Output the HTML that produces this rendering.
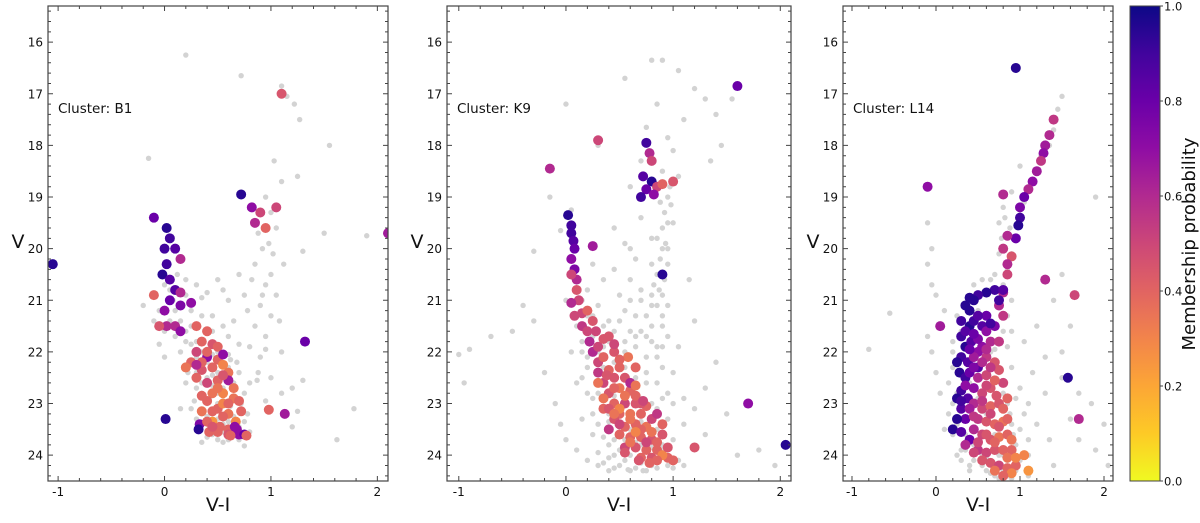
<!DOCTYPE html>
<html><head><meta charset="utf-8"><style>
body{margin:0;background:#fff;font-family:"Liberation Sans","DejaVu Sans",sans-serif}
svg text{font-family:"DejaVu Sans","Liberation Sans",sans-serif}
</style></head><body>
<svg id="chart" width="1200" height="518" viewBox="0 0 1200 518" xmlns="http://www.w3.org/2000/svg">
<defs><linearGradient id="cb" x1="0" y1="1" x2="0" y2="0">
<stop offset="0" stop-color="#f0f921"/><stop offset="0.1" stop-color="#fdca26"/><stop offset="0.2" stop-color="#fca636"/><stop offset="0.3" stop-color="#f2844b"/><stop offset="0.4" stop-color="#e16462"/><stop offset="0.5" stop-color="#cc4778"/><stop offset="0.6" stop-color="#b12a90"/><stop offset="0.7" stop-color="#8f0da4"/><stop offset="0.8" stop-color="#6a00a8"/><stop offset="0.9" stop-color="#41049d"/><stop offset="1" stop-color="#0d0887"/></linearGradient></defs>
</svg>
<script>
const b1Gray=[0.2,16.25,0.72,16.65,1.1,16.85,1.15,17.05,1.22,17.2,1.27,17.5,1.55,18.0,1.25,18.6,-0.15,18.25,1.03,18.3,1.1,18.7,0.95,19.0,1.0,19.3,1.05,19.6,1.5,19.7,1.9,19.75,1.3,20.05,1.12,20.3,1.0,20.5,0.95,20.7,1.05,20.9,0.9,21.1,1.0,21.3,0.85,21.5,0.95,21.7,0.8,21.9,0.9,22.1,1.1,22.0,0.75,20.9,0.7,20.5,0.85,20.3,0.92,20.0,0.98,19.9,0.88,19.7,1.02,20.1,0.92,20.9,1.08,21.4,0.78,21.2,0.82,20.6,0.95,21.95,0.88,22.4,1.0,22.5,0.8,22.6,1.2,22.7,1.3,22.55,0.95,22.95,1.1,22.8,1.25,23.15,1.2,23.45,1.62,23.7,1.78,23.1,0.87,22.55,0.6,21.0,0.55,20.8,0.4,20.85,0.3,20.7,0.35,20.95,0.2,20.9,0.25,21.2,0.45,21.3,0.55,21.5,0.65,21.4,0.6,21.7,0.7,21.85,0.2,21.6,0.1,21.7,-0.05,21.85,0.0,22.1,-0.2,21.1,0.15,22.0,0.25,21.85,0.35,22.0,0.3,22.25,0.45,22.45,0.55,22.7,0.65,22.6,0.7,22.4,0.75,22.8,0.6,22.95,0.5,23.0,0.4,23.0,0.3,22.7,0.2,22.6,0.15,23.1,0.25,23.1,0.3,23.3,0.4,23.4,0.5,23.3,0.55,23.4,0.65,23.25,0.75,23.35,0.8,23.55,0.7,23.7,0.6,23.7,0.5,23.7,0.4,23.65,0.35,23.75,0.55,23.75,0.75,23.82,0.45,23.5,0.62,23.05,0.42,22.9,0.52,22.2,0.62,22.15,0.45,22.05,0.05,21.4,-0.1,21.4,0.1,21.2,0.5,20.6,0.45,21.6,0.35,21.3,0.68,22.2,0.6,22.3,0.72,23.0,0.28,22.95,0.22,22.4,0.58,23.2,0.78,23.2,
0.3,22.1,0.4,22.2,0.5,22.4,0.4,22.5,0.3,22.4,0.35,22.6,0.5,22.8,0.45,22.65,0.35,22.8,0.55,22.95,0.45,23.2,0.35,23.2,0.55,23.55,0.45,23.6,0.65,23.55,0.7,23.45,0.4,23.25,0.6,23.35,0.5,22.0,0.4,21.95,0.3,21.8,0.2,21.8,0.15,21.4,0.25,21.5,0.0,21.6,-0.05,21.2,0.08,21.0,0.05,20.8,0.12,20.5,0.0,20.7,0.2,20.6,0.6,22.05];
const b1Members=[1.1,17.0,0.45,0.72,18.95,0.95,0.82,19.2,0.7,0.9,19.3,0.5,1.05,19.2,0.5,0.85,19.5,0.6,0.95,19.6,0.4,-0.1,19.4,0.8,0.02,19.6,0.95,0.05,19.8,0.9,0.1,20.0,0.85,0.15,20.2,0.6,0.0,20.0,0.9,0.02,20.3,0.9,-0.02,20.5,0.95,0.05,20.6,0.85,-1.05,20.3,0.95,2.1,19.7,0.65,0.1,20.8,0.85,0.15,20.85,0.6,-0.1,20.9,0.4,0.05,21.0,0.8,0.15,21.1,0.75,0.25,21.05,0.7,0.0,21.2,0.7,0.02,21.5,0.6,-0.05,21.5,0.45,0.1,21.5,0.6,0.15,21.6,0.7,0.3,21.5,0.4,0.4,21.6,0.4,0.35,21.8,0.4,0.45,21.85,0.45,0.5,21.9,0.4,1.32,21.8,0.8,0.3,22.0,0.5,0.25,22.2,0.4,0.4,22.1,0.7,0.5,22.15,0.4,0.2,22.3,0.35,0.35,22.35,0.45,0.45,22.3,0.4,0.55,22.25,0.3,0.6,22.4,0.35,0.3,22.5,0.4,0.4,22.6,0.5,0.5,22.55,0.4,0.6,22.55,0.65,0.65,22.7,0.35,0.35,22.85,0.4,0.45,22.8,0.35,0.55,22.8,0.3,0.65,22.9,0.35,0.7,22.95,0.4,0.35,23.15,0.35,0.45,23.15,0.4,0.5,23.1,0.4,0.6,23.2,0.35,0.72,23.15,0.4,0.98,23.12,0.4,1.13,23.2,0.65,0.01,23.3,0.95,0.33,23.4,0.75,0.45,23.35,0.25,0.67,23.35,0.3,0.32,23.5,0.95,0.42,23.55,0.4,0.5,23.55,0.4,0.6,23.5,0.4,0.66,23.45,0.7,0.68,23.5,0.7,0.7,23.6,0.7,0.75,23.6,0.8,0.77,23.62,0.4,0.6,23.6,0.45,0.52,23.45,0.4,0.55,22.05,0.7,
0.4,22.0,0.4,0.35,22.2,0.4,0.5,22.7,0.35,0.4,22.95,0.4,0.55,23.0,0.3,0.4,23.35,0.4,0.55,23.25,0.4,0.6,23.0,0.4,0.45,23.45,0.45,0.62,23.62,0.4,0.3,22.25,0.6,0.55,22.45,0.45];
const k9Gray=[0.0,17.2,0.55,16.7,0.8,16.35,0.9,16.35,1.05,16.55,1.2,16.9,1.3,17.1,1.4,17.4,1.55,17.1,1.1,17.5,0.75,17.65,0.95,17.85,1.0,18.1,1.45,18.0,1.35,18.3,0.3,18.0,-0.15,19.0,0.05,19.25,-0.05,19.65,-0.3,20.05,1.05,18.6,0.97,18.8,0.95,19.0,0.92,19.3,0.9,19.6,0.93,19.9,0.88,20.2,0.9,20.5,0.87,20.8,0.85,21.1,0.9,21.3,0.8,21.5,0.75,21.7,0.85,21.9,0.98,19.15,1.0,19.5,0.95,20.0,0.8,20.3,0.82,20.7,0.7,21.0,0.6,20.6,0.55,21.2,0.45,20.4,0.5,20.9,0.35,20.6,0.3,21.1,0.4,21.4,0.2,20.8,0.6,21.6,0.65,21.9,0.75,22.1,0.9,22.3,1.0,22.4,0.7,18.3,0.6,18.8,0.7,19.4,0.55,19.9,0.65,20.2,0.25,20.3,-0.4,21.1,-0.5,21.6,-0.7,21.7,-0.9,21.95,-1.0,22.05,-0.3,21.4,-0.2,22.4,-0.1,23.0,-0.05,23.4,0.0,23.7,0.1,23.9,0.2,24.1,0.3,24.2,0.45,24.25,0.6,24.3,0.75,24.3,0.85,24.25,0.95,24.2,0.1,22.6,0.15,23.3,0.25,23.6,0.3,23.95,0.4,24.05,0.9,23.9,1.0,23.7,1.1,23.4,1.2,23.1,1.3,22.7,1.1,22.9,1.3,23.6,1.5,23.2,1.6,24.0,1.8,23.9,1.95,24.2,-0.95,22.6,0.05,22.0,0.15,21.8,1.2,21.4,1.15,20.6,1.4,22.2,0.5,22.1,0.3,22.0,0.95,22.8,0.85,23.1,0.55,24.1,0.7,24.15,0.8,24.05,0.5,23.9,1.05,24.1,0.35,22.6,0.95,21.7,1.05,21.9,0.65,21.3,0.2,22.3,0.25,22.9,0.4,23.2,0.65,23.75,0.75,23.5,0.15,22.0,0.75,22.6,0.6,20.0,0.8,19.8,0.45,19.6,0.85,17.2,
0.15,21.0,0.25,21.3,0.35,21.5,0.45,21.6,0.55,21.8,0.7,21.6,0.8,21.8,0.9,21.5,0.95,21.1,0.9,20.9,0.8,21.1,0.7,20.8,0.6,21.0,0.5,21.4,0.4,21.8,0.3,21.6,0.2,22.1,0.35,22.3,0.45,22.2,0.55,22.3,0.65,22.5,0.75,22.4,0.85,22.6,0.9,22.9,1.0,23.0,0.95,23.3,0.85,23.5,0.9,23.8,0.8,24.2,0.65,24.25,0.5,24.2,0.4,23.8,0.3,23.4,0.25,23.2,0.2,22.8,0.15,22.5,0.3,22.8,0.45,22.85,0.55,22.9,0.7,22.9,0.8,23.0,0.7,23.35,0.6,23.5,0.5,23.45,0.4,23.35,0.35,23.65,0.45,23.7,0.55,23.7,0.7,23.8,0.8,23.85,0.6,24.0,0.45,24.0,0.35,24.15,0.9,24.0,1.0,24.25,0.85,22.1,0.75,21.3,0.65,21.7,0.55,22.0,0.35,21.9,0.25,21.7,0.1,21.5,0.0,21.0,0.1,20.6,0.9,18.5,0.88,19.1,0.95,19.5,0.85,19.8,0.9,20.0,0.85,20.5,0.8,20.9,0.95,20.3,0.92,20.6,0.9,21.9,0.2,21.3,1.1,24.2,0.72,24.3,0.58,24.28,0.4,24.3];
const k9Members=[0.02,19.35,0.95,0.05,19.55,0.9,0.05,19.7,0.9,0.07,19.85,0.85,0.08,20.0,0.8,0.05,20.2,0.7,0.08,20.4,0.75,0.1,20.6,0.6,0.05,20.5,0.5,0.1,20.8,0.45,0.12,21.0,0.5,0.05,21.05,0.6,0.15,21.25,0.5,0.08,21.3,0.5,0.15,21.5,0.55,0.2,21.6,0.5,0.22,21.8,0.6,0.25,22.0,0.6,0.3,21.9,0.5,0.3,22.2,0.5,0.35,22.1,0.4,0.25,21.4,0.45,0.2,21.2,0.4,0.4,21.7,0.45,0.45,22.0,0.45,0.3,22.4,0.55,0.35,22.6,0.5,0.4,22.35,0.4,0.45,22.5,0.45,0.5,22.3,0.4,0.55,22.5,0.45,0.4,22.8,0.45,0.5,22.7,0.35,0.6,22.75,0.4,0.45,23.0,0.4,0.55,23.0,0.5,0.65,23.0,0.45,0.5,23.2,0.4,0.6,23.2,0.35,0.7,23.2,0.4,0.45,23.3,0.45,0.55,23.45,0.4,0.65,23.4,0.4,0.75,23.45,0.35,0.8,23.3,0.5,0.5,23.6,0.4,0.6,23.65,0.4,0.7,23.65,0.4,0.8,23.7,0.45,0.55,23.85,0.5,0.65,23.85,0.45,0.75,23.9,0.4,0.85,23.9,0.4,0.7,24.05,0.4,0.8,24.05,0.45,0.95,24.05,0.4,1.0,24.1,0.4,0.6,22.6,0.6,0.35,22.9,0.35,0.65,22.3,0.4,0.58,22.1,0.35,0.75,23.05,0.4,0.4,23.5,0.55,0.35,23.1,0.4,0.9,23.6,0.45,0.85,23.2,0.55,0.75,17.95,0.9,0.78,18.15,0.6,0.8,18.3,0.5,0.72,18.6,0.85,0.8,18.7,0.95,0.85,18.8,0.5,0.75,18.85,0.8,0.82,18.95,0.7,0.7,19.0,0.9,0.9,18.75,0.4,1.0,18.7,0.45,1.6,16.85,0.8,0.3,17.9,0.5,-0.15,18.45,0.6,0.25,19.95,0.65,0.9,20.5,0.95,1.7,23.0,0.7,2.05,23.8,0.95,1.2,23.85,0.45,
0.45,22.7,0.4,0.55,22.85,0.35,0.65,22.85,0.4,0.7,23.0,0.45,0.5,23.1,0.3,0.6,23.3,0.35,0.7,23.5,0.4,0.8,23.55,0.35,0.65,23.55,0.3,0.85,23.75,0.4,0.75,23.75,0.5,0.9,24.0,0.3,0.85,24.1,0.4,0.6,23.75,0.35,0.5,23.4,0.5,0.4,23.1,0.45,0.3,22.6,0.35,0.38,22.45,0.45,0.5,22.15,0.4,0.45,21.85,0.5,0.35,21.75,0.45,0.28,21.6,0.5,0.65,22.65,0.35,0.72,22.95,0.5,0.9,23.4,0.4,0.95,23.85,0.45,0.78,24.15,0.4,0.68,24.1,0.45,0.55,23.95,0.45,0.45,23.2,0.35];
const l14Gray=[-0.8,21.95,-0.55,21.25,-0.1,19.5,-0.05,20.0,-0.1,20.3,-0.05,20.7,0.0,20.9,0.1,21.2,0.05,21.5,-0.1,21.7,1.5,17.05,1.45,17.3,1.4,17.7,1.35,18.0,1.25,18.2,1.2,18.5,1.1,18.8,1.05,19.1,1.0,19.5,0.95,19.8,0.9,20.1,0.85,20.4,0.8,20.7,0.9,21.0,0.85,21.3,1.9,19.0,2.1,18.3,1.5,20.5,1.4,21.0,1.2,21.5,1.05,21.8,1.3,22.1,1.15,22.4,1.0,22.7,1.1,23.0,1.3,22.8,1.5,22.5,1.6,23.3,1.7,23.7,1.9,23.9,2.0,23.4,1.2,23.4,1.35,23.7,1.1,24.0,1.4,24.2,1.1,24.4,0.9,24.45,0.8,24.3,0.7,24.4,0.6,24.3,0.4,24.2,0.3,23.9,0.2,23.6,0.15,23.2,0.05,22.8,0.0,22.4,0.2,22.0,0.3,21.6,0.55,21.3,0.6,20.9,0.7,20.5,0.75,20.1,0.6,21.9,0.7,22.3,0.8,22.6,0.85,23.0,0.9,23.4,0.95,23.8,0.25,22.8,0.3,23.3,0.45,23.8,0.55,24.0,0.65,24.15,0.75,24.0,0.85,24.1,1.0,23.5,0.5,21.7,0.4,21.2,0.65,20.8,0.75,19.5,0.8,19.2,0.9,18.9,1.0,18.4,1.5,22.0,1.6,21.5,1.7,22.8,1.85,23.0,2.05,24.2,0.1,23.5,0.25,24.0,-0.05,22.0,
0.25,21.3,0.2,21.8,0.2,22.3,0.15,22.6,0.2,23.0,0.25,23.4,0.35,23.9,0.45,24.1,0.55,24.2,0.65,24.35,0.75,24.45,0.85,24.4,0.95,24.3,1.0,24.1,0.92,23.6,0.88,23.2,0.8,22.8,0.75,22.4,0.65,22.0,0.6,21.6,0.5,21.2,0.45,20.7,0.55,20.6,0.65,20.6,0.4,22.6,0.5,22.9,0.6,23.2,0.7,23.6,0.8,24.0,0.35,23.6,0.5,23.7,0.6,24.05,0.4,24.3,0.3,24.1,0.7,21.95,0.8,21.6,0.9,21.6,0.85,21.9,0.9,22.3,0.95,22.9,1.05,23.2,1.1,23.7,0.78,19.8,0.82,19.4,0.88,19.6];
const l14Members=[0.95,16.5,0.95,1.4,17.5,0.55,1.35,17.8,0.6,1.3,18.0,0.65,1.28,18.15,0.7,1.25,18.3,0.55,1.2,18.5,0.65,1.15,18.7,0.7,1.1,18.85,0.6,1.05,19.0,0.8,1.0,19.2,0.75,0.8,18.95,0.6,1.0,19.4,0.9,0.98,19.55,0.95,0.95,19.8,0.8,0.85,19.75,0.6,0.8,20.0,0.55,0.9,20.15,0.45,0.85,20.3,0.6,0.85,20.5,0.5,0.8,20.85,0.6,0.75,21.1,0.6,0.8,21.3,0.55,0.7,20.8,0.9,0.6,20.85,0.95,0.5,20.9,0.9,1.3,20.6,0.6,1.65,20.9,0.5,1.57,22.5,0.95,1.7,23.3,0.6,-0.1,18.8,0.7,0.05,21.5,0.65,1.05,24.0,0.3,1.1,24.3,0.25,0.35,21.1,0.95,0.4,21.2,0.95,0.45,21.0,0.95,0.3,21.4,0.9,0.4,21.5,0.95,0.45,21.4,0.9,0.3,21.7,0.9,0.35,21.9,0.95,0.42,21.8,0.85,0.3,22.1,0.9,0.38,22.2,0.85,0.28,22.4,0.95,0.35,22.5,0.9,0.3,22.75,0.9,0.38,22.9,0.85,0.3,23.1,0.85,0.35,23.3,0.8,0.2,23.5,0.95,0.3,23.55,0.85,0.4,23.7,0.8,0.25,22.9,0.95,0.5,22.3,0.85,0.55,21.5,0.85,0.6,21.3,0.8,0.7,21.5,0.75,0.65,21.8,0.6,0.75,21.8,0.55,0.55,21.9,0.7,0.5,22.0,0.7,0.45,22.1,0.65,0.6,22.1,0.55,0.7,22.2,0.45,0.5,22.5,0.6,0.6,22.45,0.5,0.45,22.7,0.7,0.55,22.8,0.5,0.65,22.7,0.45,0.45,23.0,0.6,0.55,23.1,0.5,0.65,23.05,0.4,0.75,23.0,0.45,0.5,23.3,0.55,0.6,23.35,0.45,0.7,23.4,0.4,0.8,23.35,0.35,0.45,23.5,0.6,0.55,23.6,0.5,0.65,23.7,0.45,0.75,23.65,0.35,0.85,23.6,0.4,0.5,23.9,0.55,0.6,23.95,0.5,0.7,23.9,0.45,0.8,23.9,0.4,0.9,23.9,0.4,0.65,24.15,0.45,0.75,24.2,0.5,0.85,24.25,0.4,0.95,24.2,0.4,0.9,24.35,0.3,0.8,22.6,0.5,0.4,22.4,0.8,0.85,22.9,0.4,
0.35,21.6,0.85,0.4,21.95,0.8,0.45,22.3,0.75,0.35,22.65,0.7,0.4,23.1,0.65,0.45,23.25,0.55,0.5,23.75,0.5,0.6,23.6,0.45,0.7,23.75,0.4,0.75,23.45,0.45,0.65,23.2,0.5,0.55,22.95,0.55,0.6,22.65,0.5,0.7,22.55,0.4,0.75,22.35,0.45,0.65,22.3,0.55,0.55,22.2,0.6,0.6,21.95,0.6,0.5,21.75,0.75,0.6,21.6,0.7,0.5,21.3,0.85,0.45,21.65,0.8,0.25,22.2,0.95,0.3,22.95,0.9,0.25,23.3,0.95,0.35,23.8,0.6,0.45,23.95,0.5,0.55,24.1,0.45,0.7,24.3,0.35,0.8,24.4,0.4,0.85,24.05,0.35,0.95,24.05,0.3,0.9,23.7,0.35,0.85,23.3,0.4,0.8,23.1,0.4,0.72,22.85,0.45,0.65,21.45,0.9,0.75,21.0,0.9,0.8,20.8,0.85,0.4,20.95,0.95];
const xTickLabels=[-1,0,1,2];
const yTickLabels=[16,17,18,19,20,21,22,23,24];
const cbTickLabels=[0.0,0.2,0.4,0.6,0.8,1.0];

const NS="http://www.w3.org/2000/svg";
const svg=document.getElementById('chart');
function mk(tag,attrs,parent){const e=document.createElementNS(NS,tag);for(const k in attrs)e.setAttribute(k,attrs[k]);(parent||svg).appendChild(e);return e;}
const stops=[[0,[240,249,33]],[0.1,[253,202,38]],[0.2,[252,166,54]],[0.3,[242,132,75]],[0.4,[225,100,98]],[0.5,[204,71,120]],[0.6,[177,42,144]],[0.7,[143,13,164]],[0.8,[106,0,168]],[0.9,[65,4,157]],[1,[13,8,135]]];
function cmap(p){p=Math.max(0,Math.min(1,p));for(let i=1;i<stops.length;i++){if(p<=stops[i][0]){const a=stops[i-1],b=stops[i],t=(p-a[0])/(b[0]-a[0]);return 'rgb('+a[1].map((v,j)=>Math.round(v+(b[1][j]-v)*t)).join(',')+')';}}return 'rgb(13,8,135)';}

const TOP=6,BOT=481,Y0=15.3,Y1=24.5;
const panels=[
 {id:'b1',name:'B1',L:48,R:388,x0:-1.095,x1:2.1,gray:b1Gray,mem:b1Members},
 {id:'k9',name:'K9',L:447,R:791,x0:-1.11,x1:2.1,gray:k9Gray,mem:k9Members},
 {id:'l14',name:'L14',L:843,R:1113,x0:-1.107,x1:2.107,gray:l14Gray,mem:l14Members}];
panels.forEach(P=>{
 const xs=v=>P.L+(v-P.x0)/(P.x1-P.x0)*(P.R-P.L);
 const ys=v=>TOP+(v-Y0)/(Y1-Y0)*(BOT-TOP);
 const g=mk('g',{});
 
 
 const clip=mk('clipPath',{id:'clip-'+P.id},g);mk('rect',{x:P.L,y:TOP,width:P.R-P.L,height:BOT-TOP},clip);
 const pts=mk('g',{'clip-path':'url(#clip-'+P.id+')'},g);
 
 
 for(let i=0;i<P.gray.length;i+=2){const c=mk('circle',{cx:xs(P.gray[i]),cy:ys(P.gray[i+1]),r:2.7,fill:'#d3d3d3'},pts);
  
  }
 for(let i=0;i<P.mem.length;i+=3){const c=mk('circle',{cx:xs(P.mem[i]),cy:ys(P.mem[i+1]),r:5,fill:cmap(P.mem[i+2])},pts);
  
  }
 const fr=mk('rect',{x:P.L,y:TOP,width:P.R-P.L,height:BOT-TOP,fill:'none',stroke:'#444','stroke-width':1.2},g);
 
 
 let tk='';
 for(let v=-1;v<=2.001;v+=0.2){const x=xs(v),maj=Math.abs(v-Math.round(v))<0.01,l=maj?5:3;tk+=`M${x},${BOT}v${-l}M${x},${TOP}v${l}`;}
 for(let v=15.4;v<=24.41;v+=0.2){const y=ys(v),maj=Math.abs(v-Math.round(v))<0.01,l=maj?5:3;tk+=`M${P.L},${y}h${l}M${P.R},${y}h${-l}`;}
 mk('path',{d:tk,stroke:'#444','stroke-width':1,fill:'none'},g);
 xTickLabels.forEach(v=>{const t=mk('text',{x:xs(v),y:BOT+15,'font-size':12,'text-anchor':'middle',fill:'#111'},g);t.textContent=v;
  
  });
 yTickLabels.forEach(v=>{const t=mk('text',{x:P.L-5,y:ys(v)+4.5,'font-size':12,'text-anchor':'end',fill:'#111'},g);t.textContent=v;
  
  });
 const xl=mk('text',{x:(P.L+P.R)/2,y:511,'font-size':19,'text-anchor':'middle',fill:'#111'},g);xl.textContent='V-I';
 
 
 const yl=mk('text',{x:P.L-30,y:248,'font-size':19,'text-anchor':'middle',fill:'#111'},g);yl.textContent='V';
 
 
 const ct=mk('text',{x:P.L+10,y:113,'font-size':13.5,fill:'#111'},g);ct.textContent='Cluster: '+P.name;
 
 
});
// colorbar
const cb=mk('g',{});


mk('rect',{x:1130,y:TOP,width:30,height:BOT-TOP,fill:'url(#cb)',stroke:'#444','stroke-width':1},cb);
cbTickLabels.forEach(v=>{const y=BOT-v*(BOT-TOP);mk('path',{d:`M1160,${y}h3`,stroke:'#444'},cb);
 const t=mk('text',{x:1164,y:y+4.5,'font-size':11.5,fill:'#111'},cb);t.textContent=v.toFixed(1);
 
 });
const cl=mk('text',{x:0,y:0,'font-size':18,'text-anchor':'middle',fill:'#111',transform:'translate(1195,244) rotate(-90)'},cb);cl.textContent='Membership probability';


</script>
</body></html>
